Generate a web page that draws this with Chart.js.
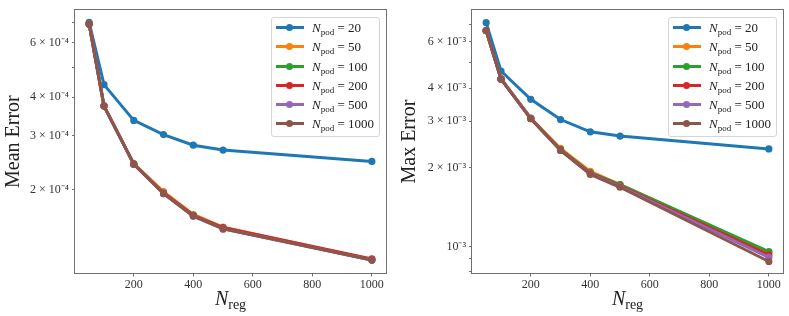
<!DOCTYPE html>
<html><head><meta charset="utf-8">
<script src="https://cdn.jsdelivr.net/npm/chart.js@4/dist/chart.umd.min.js"></script>
<style>
html,body{margin:0;padding:0;background:#fff;}
#wrap{position:relative;width:789px;height:316px;overflow:hidden;}
.panel{position:absolute;top:0;}
.legend{position:absolute;background:rgba(255,255,255,0.8);border:1px solid #d6d6d6;border-radius:3px;
  font-family:"Liberation Serif",serif;font-size:13px;color:#222;padding:0 5px 3px 0;box-sizing:content-box;}
.row{position:relative;height:19.2px;line-height:19.2px;white-space:nowrap;}
.swl{position:absolute;height:3px;}
.swm{position:absolute;width:7px;height:7px;border-radius:50%;}
.txt{display:inline-block;}
.it{font-style:italic;}
.sb{font-size:9px;vertical-align:-3px;line-height:0;}
.xt{position:absolute;font-family:"Liberation Serif",serif;font-size:20px;line-height:20px;color:#222;white-space:nowrap;transform:translateX(-50%);}
.xt .sbx{font-size:14px;vertical-align:-4px;line-height:0;}
</style>
</head><body>
<div id="wrap">
  <canvas id="c1" class="panel" style="left:0px"></canvas>
  <canvas id="c2" class="panel" style="left:394px"></canvas>
</div>
<script>
// ---- data ----
const nReg = [50, 100, 200, 300, 400, 500, 1000];
const nPod = [20, 50, 100, 200, 500, 1000];
const colors = ['#1f77b4', '#ff7f0e', '#2ca02c', '#d62728', '#9467bd', '#8c564b'];

const meanPod20   = [7.00e-4, 4.39e-4, 3.36e-4, 3.02e-4, 2.79e-4, 2.69e-4, 2.47e-4];
const meanPod50   = [6.92e-4, 3.75e-4, 2.43e-4, 1.97e-4, 1.66e-4, 1.51e-4, 1.185e-4];
const meanPod100  = [6.92e-4, 3.74e-4, 2.42e-4, 1.95e-4, 1.65e-4, 1.50e-4, 1.18e-4];
const meanPod200  = [6.92e-4, 3.74e-4, 2.42e-4, 1.95e-4, 1.65e-4, 1.505e-4, 1.19e-4];
const meanPod500  = [6.92e-4, 3.74e-4, 2.42e-4, 1.94e-4, 1.64e-4, 1.49e-4, 1.18e-4];
const meanPod1000 = [6.92e-4, 3.74e-4, 2.42e-4, 1.94e-4, 1.64e-4, 1.49e-4, 1.18e-4];

const maxPod20   = [7.10e-3, 4.65e-3, 3.63e-3, 3.04e-3, 2.73e-3, 2.63e-3, 2.35e-3];
const maxPod50   = [6.63e-3, 4.35e-3, 3.08e-3, 2.36e-3, 1.93e-3, 1.72e-3, 9.50e-4];
const maxPod100  = [6.63e-3, 4.34e-3, 3.07e-3, 2.34e-3, 1.91e-3, 1.72e-3, 9.57e-4];
const maxPod200  = [6.63e-3, 4.33e-3, 3.07e-3, 2.33e-3, 1.90e-3, 1.70e-3, 9.30e-4];
const maxPod500  = [6.63e-3, 4.33e-3, 3.07e-3, 2.32e-3, 1.89e-3, 1.69e-3, 9.10e-4];
const maxPod1000 = [6.63e-3, 4.33e-3, 3.06e-3, 2.32e-3, 1.88e-3, 1.68e-3, 8.77e-4];

const xTickValues = [200, 400, 600, 800, 1000];
const meanTickValues = [2e-4, 3e-4, 4e-4, 5e-4, 6e-4, 7e-4];
const meanTickLabels = ['2 × 10⁻⁴', '3 × 10⁻⁴', '4 × 10⁻⁴', '', '6 × 10⁻⁴', ''];
const maxTickValues = [8e-4, 9e-4, 1e-3, 2e-3, 3e-3, 4e-3, 5e-3, 6e-3, 7e-3];
const maxTickLabels = ['', '', '10⁻³', '2 × 10⁻³', '3 × 10⁻³', '4 × 10⁻³', '', '6 × 10⁻³', ''];

const meanSeries = [meanPod20, meanPod50, meanPod100, meanPod200, meanPod500, meanPod1000];
const maxSeries  = [maxPod20, maxPod50, maxPod100, maxPod200, maxPod500, maxPod1000];

// ---- rendering ----
const FRAME = '#707070';
const framePlugin = {
  id: 'frame',
  afterDatasetsDraw(chart) {
    const {ctx, chartArea: a} = chart;
    ctx.save();
    ctx.strokeStyle = FRAME;
    ctx.lineWidth = 1;
    ctx.strokeRect(Math.round(a.left) - 0.5, Math.round(a.top) - 0.5,
                   Math.round(a.right - a.left) + 1, Math.round(a.bottom - a.top) + 1);
    ctx.restore();
  }
};

function makeChart(id, w, series, yTitle, yMin, yMax, yTicks, yLabels, yWidth, padRight, padTop, titlePad) {
  const cv = document.getElementById(id);
  cv.width = w; cv.height = 316;
  cv.style.width = w + 'px'; cv.style.height = '316px';
  const datasets = series.map((vals, i) => ({
    label: 'N_pod = ' + nPod[i],
    data: nReg.map((x, j) => ({x: x, y: vals[j]})),
    borderColor: colors[i],
    backgroundColor: colors[i],
    borderWidth: 3,
    pointRadius: 3.6,
    pointHoverRadius: 3.6,
    pointBorderWidth: 0,
    tension: 0,
    order: series.length - i
  }));
  return new Chart(cv, {
    type: 'line',
    data: {datasets},
    plugins: [framePlugin],
    options: {
      responsive: false,
      animation: false,
      events: [],
      layout: {padding: {top: padTop, right: padRight, left: 0, bottom: 0}},
      plugins: {legend: {display: false}, tooltip: {enabled: false}},
      scales: {
        x: {
          type: 'linear', min: 2.5, max: 1047.5,
          afterBuildTicks: s => { s.ticks = xTickValues.map(v => ({value: v})); },
          afterFit: s => { s.height = 43; },
          border: {display: false},
          grid: {drawOnChartArea: false, drawTicks: true, tickLength: 3.5, tickColor: FRAME},
          ticks: {font: {family: 'Liberation Serif', size: 12}, color: '#333', padding: 1,
                  maxRotation: 0, autoSkip: false, callback: v => String(v)}
        },
        y: {
          type: 'logarithmic', min: yMin, max: yMax,
          afterBuildTicks: s => { s.ticks = yTicks.map(v => ({value: v})); },
          afterFit: s => { s.width = yWidth; },
          border: {display: false},
          grid: {drawOnChartArea: false, drawTicks: true, tickLength: 3, tickColor: FRAME},
          ticks: {font: {family: 'Liberation Serif', size: 12}, color: '#333', padding: 3,
                  autoSkip: false, callback: (v, i) => yLabels[i]},
          title: {display: true, text: yTitle, color: '#222',
                  font: {family: 'Liberation Serif', size: 20}, padding: {top: titlePad, bottom: 0}}
        }
      }
    }
  });
}

function htmlLegend(chart, panelLeft) {
  const a = chart.chartArea;
  const box = document.createElement('div');
  box.className = 'legend';
  chart.data.datasets.forEach((ds, i) => {
    const row = document.createElement('div');
    row.className = 'row';
    const ln = document.createElement('div');
    ln.className = 'swl';
    ln.style.cssText = 'left:4px;width:27.5px;top:8.1px;background:' + ds.borderColor;
    const mk = document.createElement('div');
    mk.className = 'swm';
    mk.style.cssText = 'left:14.3px;top:6.1px;background:' + ds.borderColor;
    const tx = document.createElement('span');
    tx.className = 'txt';
    tx.style.paddingLeft = '40px';
    tx.innerHTML = '<span class="it">N</span><span class="sb">pod</span> = ' + nPod[i];
    row.appendChild(ln); row.appendChild(mk); row.appendChild(tx);
    box.appendChild(row);
  });
  document.getElementById('wrap').appendChild(box);
  const bw = box.offsetWidth;
  box.style.left = (panelLeft + a.right - 6 - bw) + 'px';
  box.style.top = (a.top + 7) + 'px';
}

function xTitle(chart, panelLeft) {
  const a = chart.chartArea;
  const d = document.createElement('div');
  d.className = 'xt';
  d.innerHTML = '<span class="it">N</span><span class="sbx">reg</span>';
  d.style.left = (panelLeft + (a.left + a.right) / 2) + 'px';
  d.style.top = '288px';
  document.getElementById('wrap').appendChild(d);
}

const ch1 = makeChart('c1', 394, meanSeries, 'Mean Error', 1.071e-4, 7.67e-4,
                      meanTickValues, meanTickLabels, 75, 8, 6, 2);
const ch2 = makeChart('c2', 395, maxSeries, 'Max Error', 7.93e-4, 7.92e-3,
                      maxTickValues, maxTickLabels, 78, 6, 5, 4);
htmlLegend(ch1, 0);
htmlLegend(ch2, 394);
xTitle(ch1, 0);
xTitle(ch2, 394);
</script>
</body></html>
